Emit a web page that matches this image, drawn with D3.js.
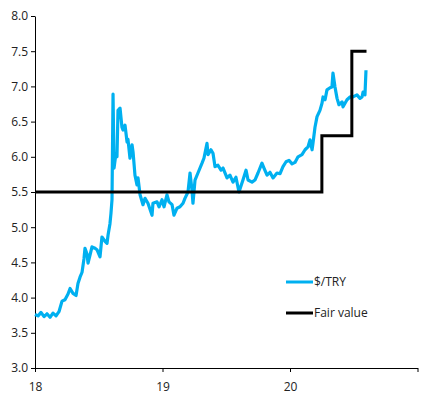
<!DOCTYPE html>
<html>
<head>
<meta charset="utf-8">
<script src="https://cdn.jsdelivr.net/npm/d3@7"></script>
<style>
  body { margin: 0; background: #fff; }
  text { font-family: "Open Sans", "Noto Sans", sans-serif; fill: #222; }
</style>
</head>
<body>
<main></main>
<script>
// $/TRY, decimal years
let tryYears = [2018.000, 2018.024, 2018.047, 2018.071, 2018.094, 2018.118, 2018.141, 2018.165, 2018.188, 2018.212,
  2018.235, 2018.259, 2018.275, 2018.298, 2018.322, 2018.337, 2018.353, 2018.369, 2018.384, 2018.392,
  2018.408, 2018.416, 2018.431, 2018.447, 2018.471, 2018.486, 2018.510, 2018.525, 2018.549, 2018.565,
  2018.573, 2018.588, 2018.596, 2018.604, 2018.612, 2018.620, 2018.635, 2018.643, 2018.651, 2018.667,
  2018.682, 2018.690, 2018.706, 2018.722, 2018.729, 2018.745, 2018.761, 2018.769, 2018.784, 2018.800,
  2018.808, 2018.824, 2018.847, 2018.863, 2018.886, 2018.918, 2018.925, 2018.957, 2018.973, 2018.996,
  2019.012, 2019.035, 2019.051, 2019.075, 2019.090, 2019.114, 2019.137, 2019.161, 2019.176, 2019.200,
  2019.216, 2019.231, 2019.239, 2019.255, 2019.278, 2019.310, 2019.325, 2019.349, 2019.357, 2019.380,
  2019.396, 2019.412, 2019.435, 2019.459, 2019.475, 2019.506, 2019.529, 2019.553, 2019.576, 2019.600,
  2019.631, 2019.655, 2019.671, 2019.702, 2019.725, 2019.749, 2019.780, 2019.796, 2019.820, 2019.843,
  2019.867, 2019.898, 2019.922, 2019.945, 2019.969, 2019.992, 2020.016, 2020.039, 2020.063, 2020.094,
  2020.118, 2020.141, 2020.157, 2020.173, 2020.180, 2020.196, 2020.212, 2020.235, 2020.251, 2020.259,
  2020.275, 2020.290, 2020.314, 2020.329, 2020.337, 2020.353, 2020.369, 2020.384, 2020.408, 2020.416,
  2020.447, 2020.471, 2020.494, 2020.525, 2020.549, 2020.565, 2020.573, 2020.588, 2020.596]
let tryValues = [3.76, 3.74, 3.79, 3.73, 3.77, 3.72, 3.78, 3.74, 3.80, 3.95,
  3.97, 4.05, 4.13, 4.06, 4.03, 4.20, 4.29, 4.36, 4.55, 4.70,
  4.62, 4.49, 4.60, 4.72, 4.70, 4.68, 4.58, 4.86, 4.80, 4.77,
  4.89, 5.05, 5.20, 5.39, 6.89, 5.84, 6.05, 6.00, 6.66, 6.69,
  6.42, 6.38, 6.45, 6.21, 6.25, 5.98, 6.17, 6.07, 5.74, 5.60,
  5.70, 5.46, 5.32, 5.41, 5.34, 5.17, 5.34, 5.36, 5.29, 5.39,
  5.29, 5.46, 5.36, 5.32, 5.17, 5.27, 5.29, 5.34, 5.41, 5.50,
  5.77, 5.53, 5.34, 5.67, 5.77, 5.91, 5.98, 6.19, 6.03, 6.10,
  6.05, 5.86, 5.88, 5.81, 5.84, 5.70, 5.74, 5.64, 5.71, 5.50,
  5.67, 5.81, 5.67, 5.64, 5.67, 5.77, 5.91, 5.84, 5.74, 5.78,
  5.70, 5.77, 5.76, 5.86, 5.93, 5.95, 5.90, 5.92, 6.00, 6.03,
  6.10, 6.14, 6.24, 6.10, 6.19, 6.42, 6.57, 6.66, 6.76, 6.85,
  6.81, 6.95, 6.98, 6.99, 7.19, 6.99, 6.83, 6.74, 6.78, 6.71,
  6.81, 6.85, 6.85, 6.88, 6.83, 6.85, 6.92, 6.88, 7.23]

// Fair value, step changes
let fairYears = [2018.0, 2020.25, 2020.485, 2020.6]
let fairValues = [5.5, 6.3, 7.5, 7.5]

let yTicks = [3.0, 3.5, 4.0, 4.5, 5.0, 5.5, 6.0, 6.5, 7.0, 7.5, 8.0]
let xTicks = [2018, 2019, 2020, 2021]
let xTickLabels = ['18', '19', '20', '']

let seriesNames = ['$/TRY', 'Fair value']
let seriesColors = ['#00B0F0', '#000000']

let margin = {top: 16, right: 15, bottom: 28, left: 35}
let width = 432
let height = 396

let svg = d3.select('main')
  .append('svg')
  .attr('width', width)
  .attr('height', height)

let x = d3.scaleLinear()
          .domain([2018, 2021])
          .range([margin.left, width - margin.right + 0.5])

let y = d3.scaleLinear()
          .domain([3, 8])
          .range([height - margin.bottom, margin.top])

// Axes
let xAxis = svg.append('g')
   .attr('transform', `translate(0, ${height - margin.bottom})`)
   .call(d3.axisBottom(x).tickValues(xTicks).tickSize(4).tickSizeOuter(0)
     .tickFormat((d, i) => xTickLabels[i]))

let yAxis = svg.append('g')
   .attr('transform', `translate(${margin.left}, 0)`)
   .call(d3.axisLeft(y).tickValues(yTicks).tickSize(4).tickSizeOuter(0)
     .tickFormat(d3.format('.1f')))

svg.selectAll('.domain, .tick line').attr('stroke', '#000')
svg.selectAll('.tick text').style('font-size', '12px').attr('fill', '#222')
xAxis.selectAll('.tick text').attr('dy', '1.3em')

// $/TRY line
let tryData = tryYears.map((d, i) => ({t: d, v: tryValues[i]}))
svg.append('path')
   .datum(tryData)
   .attr('fill', 'none')
   .attr('stroke', seriesColors[0])
   .attr('stroke-width', 3.2)
   .attr('stroke-linejoin', 'round')
   .attr('d', d3.line().x(d => x(d.t)).y(d => y(d.v)))

// Fair value line, drawn on top
let fairData = fairYears.map((d, i) => ({t: d, v: fairValues[i]}))
svg.append('path')
   .datum(fairData)
   .attr('fill', 'none')
   .attr('stroke', seriesColors[1])
   .attr('stroke-width', 3)
   .attr('d', d3.line().x(d => x(d.t)).y(d => y(d.v)).curve(d3.curveStepAfter))

// Legend
let legend = svg.append('g').attr('transform', 'translate(286, 282)')
seriesNames.forEach((name, i) => {
  let row = legend.append('g').attr('transform', `translate(0, ${i * 31})`)
  row.append('line')
     .attr('x1', 0).attr('x2', 27)
     .attr('stroke', seriesColors[i])
     .attr('stroke-width', 3)
  row.append('text')
     .attr('x', 28)
     .attr('dy', '0.35em')
     .style('font-size', '12px')
     .text(name)
})
</script>
</body>
</html>
